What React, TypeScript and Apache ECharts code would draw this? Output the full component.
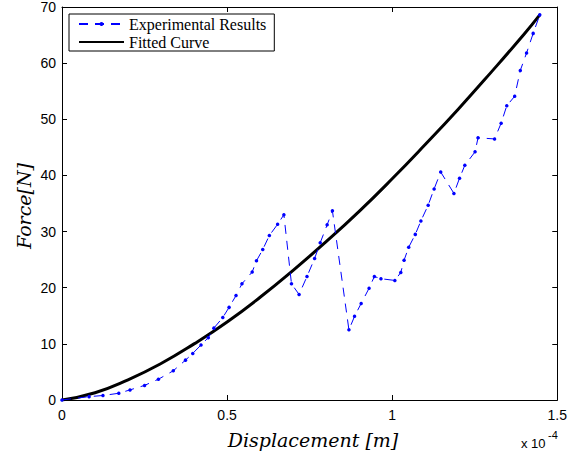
import React, { useEffect, useRef } from "react";
import * as echarts from "echarts";

const expX = [0, 0.082, 0.124, 0.172, 0.206, 0.25, 0.292, 0.337, 0.374, 0.396, 0.421, 0.443, 0.46, 0.487, 0.506, 0.527, 0.545, 0.576, 0.589, 0.608, 0.628, 0.653, 0.672, 0.695, 0.718, 0.742, 0.765, 0.782, 0.803, 0.819, 0.869, 0.886, 0.906, 0.93, 0.946, 0.966, 1.008, 1.026, 1.036, 1.05, 1.07, 1.087, 1.109, 1.127, 1.147, 1.187, 1.204, 1.22, 1.251, 1.26, 1.31, 1.33, 1.347, 1.371, 1.388, 1.407, 1.427, 1.447];
const expY = [0, 0.6, 0.8, 1.2, 1.8, 2.6, 3.7, 5.2, 7.1, 8.3, 9.8, 11.1, 12.8, 14.7, 16.5, 18.6, 20.7, 22.8, 24.8, 26.8, 29.3, 31.3, 33.0, 20.7, 18.8, 22.0, 25.2, 28.0, 31.2, 33.7, 12.5, 14.9, 17.2, 19.9, 22.0, 21.6, 21.3, 22.7, 24.9, 27.2, 29.5, 31.9, 34.7, 37.6, 40.6, 36.8, 39.5, 41.8, 44.2, 46.7, 46.5, 49.3, 52.4, 54.1, 58.7, 61.8, 65.3, 68.6];

const fitX = [0, 0.1, 0.2, 0.3, 0.4, 0.5, 0.6, 0.7, 0.8, 0.9, 1.0, 1.1, 1.2, 1.3, 1.4, 1.447];
const fitY = [0, 1.3, 3.6, 6.5, 10.0, 13.9, 18.3, 23.1, 28.2, 33.6, 39.4, 45.5, 51.8, 58.4, 65.2, 68.6];

const seriesNames = ["Experimental Results", "Fitted Curve"];
const xTitle = "Displacement [m]";
const yTitle = "Force[N]";
const xExpBase = "x 10";
const xExpPow = "-4";

const serif = "Liberation Serif";
const titleSerif = "DejaVu Serif";
const sans = "Liberation Sans";

export default function App() {
  const ref = useRef<HTMLDivElement>(null);
  useEffect(() => {
    document.body.style.margin = "0";
    const chart = echarts.init(ref.current!, null, { renderer: "svg" });
    const axisCommon = {
      type: "value" as const,
      axisLine: { show: true, onZero: false, lineStyle: { color: "#000", width: 1 } },
      axisTick: { show: true, inside: true, length: 5, lineStyle: { color: "#000" } },
      splitLine: { show: false },
    };
    chart.setOption({
      animation: false,
      backgroundColor: "#fff",
      grid: { left: 62, right: 9, top: 7, bottom: 52, containLabel: false },
      legend: {
        data: [
          { name: seriesNames[0] },
          { name: seriesNames[1], itemStyle: { opacity: 0 } },
        ],
        orient: "vertical",
        left: 69,
        top: 14,
        padding: [2, 8, 1, 9],
        itemGap: 2,
        itemWidth: 45,
        itemHeight: 5,
        selectedMode: false,
        borderColor: "#000",
        borderWidth: 1,
        backgroundColor: "#fff",
        textStyle: { fontFamily: serif, fontSize: 16, color: "#000", lineHeight: 16 },
      },
      xAxis: [
        {
          ...axisCommon,
          position: "bottom",
          min: 0,
          max: 1.5,
          interval: 0.5,
          axisLabel: { color: "#000", fontFamily: sans, fontSize: 14, margin: 8 },
        },
        {
          ...axisCommon,
          position: "top",
          min: 0,
          max: 1.5,
          interval: 0.5,
          axisLabel: { show: false },
        },
      ],
      yAxis: [
        {
          ...axisCommon,
          position: "left",
          min: 0,
          max: 70,
          interval: 10,
          axisLabel: { color: "#000", fontFamily: sans, fontSize: 14, margin: 6 },
        },
        {
          ...axisCommon,
          position: "right",
          min: 0,
          max: 70,
          interval: 10,
          axisLabel: { show: false },
        },
      ],
      graphic: [
        {
          type: "text",
          x: 313,
          y: 430,
          style: {
            text: xTitle,
            font: `italic 19px "${titleSerif}"`,
            fill: "#000",
            align: "center",
            verticalAlign: "top",
          },
        },
        {
          type: "text",
          x: 24,
          y: 206,
          rotation: Math.PI / 2,
          style: {
            text: yTitle,
            font: `italic 19px "${titleSerif}"`,
            fill: "#000",
            align: "center",
            verticalAlign: "middle",
          },
        },
        {
          type: "text",
          x: 521,
          y: 437,
          style: { text: xExpBase, font: `13px "${sans}"`, fill: "#000" },
        },
        {
          type: "text",
          x: 548,
          y: 429,
          style: { text: xExpPow, font: `11px "${sans}"`, fill: "#000" },
        },
      ],
      series: [
        {
          name: seriesNames[0],
          type: "line",
          data: expX.map((x, i) => [x, expY[i]]),
          symbol: "circle",
          symbolSize: 3.5,
          showSymbol: true,
          itemStyle: { color: "#0000ff" },
          lineStyle: { color: "#0000ff", width: 1, type: [9, 7] },
          z: 3,
        },
        {
          name: seriesNames[1],
          type: "line",
          data: fitX.map((x, i) => [x, fitY[i]]),
          smooth: true,
          symbol: "none",
          itemStyle: { color: "#000" },
          lineStyle: { color: "#000", width: 3 },
          z: 2,
        },
      ],
    });
    return () => chart.dispose();
  }, []);
  return <div ref={ref} style={{ width: 570, height: 452 }} />;
}
